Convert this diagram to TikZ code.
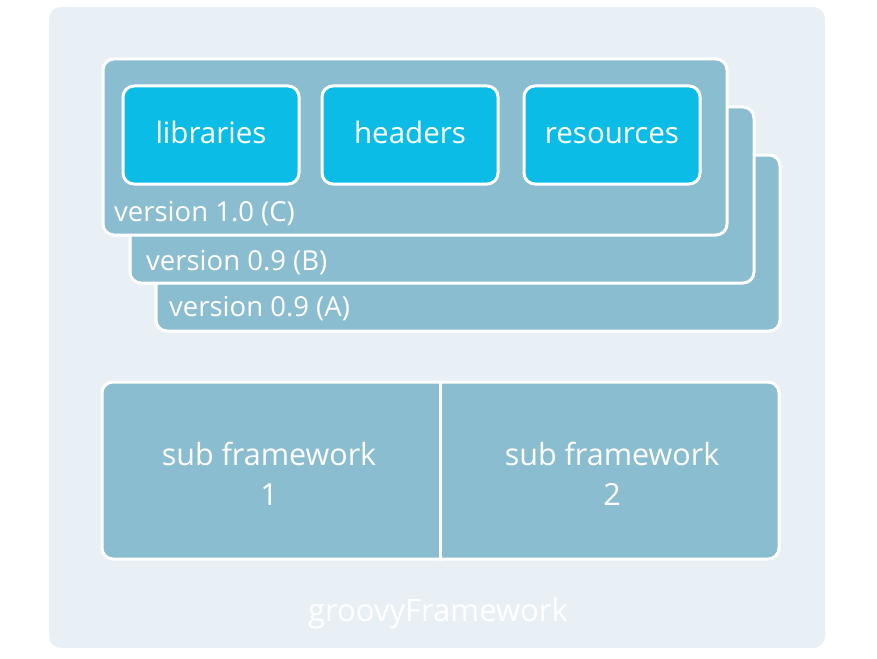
\documentclass[tikz,border=0pt]{standalone}
\usepackage{fontspec}
\setmainfont{Open Sans}
\usepackage{tikz}
\usepackage{xcolor}
\definecolor{bgpale}{HTML}{E8F0F6}
\definecolor{layerblue}{HTML}{8BBDD0}
\definecolor{partcyan}{HTML}{0BBDE6}

\begin{document}
\begin{tikzpicture}[x=1pt, y=-1pt,
  layer/.style={draw=white, line width=3pt, fill=layerblue, rounded corners=11pt,
    minimum width=624pt, minimum height=176pt, anchor=north west, inner sep=0pt},
  part/.style={draw=white, line width=3pt, fill=partcyan, rounded corners=11pt,
    minimum width=176pt, minimum height=98pt, inner sep=0pt,
    text height=22pt, text depth=6pt,
    text=white, font=\fontsize{29.5}{34}\selectfont},
  label/.style={text=white, font=\fontsize{27.5}{32}\selectfont, anchor=base west, inner sep=0pt}]
  \useasboundingbox (0,0) rectangle (877,658);

  % framework background
  \fill[bgpale, rounded corners=12pt] (49,7) rectangle (825,648);
  \node[text=white, anchor=base, font=\fontsize{31}{36}\selectfont] (fw) at (438,621) {groovyFramework};

  % stacked versions
  \node[layer] (verA) at (154.5,153.5) {};
  \node[label] (labA) at (169,316) {version 0.9 (A)};
  \node[layer] (verB) at (128.5,105.5) {};
  \node[label] (labB) at (146,270) {version 0.9 (B)};
  \node[layer] (verC) at (101.5,57.5) {};
  \node[label] (labC) at (114,221) {version 1.0 (C)};

  % contents of the current version
  \node[part] (libs) at (211,135) {libraries};
  \node[part] (hdrs) at (410,135) {headers};
  \node[part] (res) at (612,135) {resources};

  % sub frameworks
  \node[draw=white, line width=3pt, fill=layerblue, rounded corners=11pt,
    minimum width=677pt, minimum height=177pt, inner sep=0pt] (subs) at (440.5,470.5) {};
  \draw[white, line width=3pt] (subs.north) -- (subs.south);
  \node[text=white, align=center, font=\fontsize{30.5}{40}\selectfont] (sub1) at (269,474) {sub framework\\1};
  \node[text=white, align=center, font=\fontsize{30.5}{40}\selectfont] (sub2) at (612,474) {sub framework\\2};
\end{tikzpicture}
\end{document}
